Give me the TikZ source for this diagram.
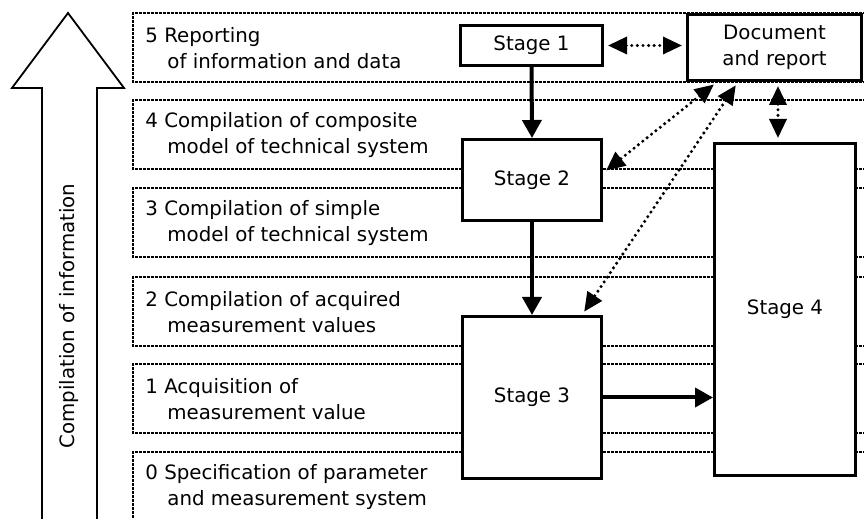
\documentclass[tikz,border=0pt]{standalone}
\usepackage{fontspec}
\setmainfont{DejaVu Sans}
\usetikzlibrary{arrows.meta,calc}

\begin{document}
\begin{tikzpicture}[x=0.5pt,y=-0.5pt,
                font=\fontsize{9.9}{13.25}\selectfont,
                band/.style={line width=1.2pt,dash pattern=on 1.5pt off 0.5pt},
                level/.style={anchor=west,align=left,inner sep=0pt},
                stage/.style={draw,line width=1.5pt,fill=white,align=center,inner sep=0pt},
                flow/.style={line width=2pt,-{Triangle[length=9pt,width=9.5pt]}},
                link/.style={line width=1.7pt,line cap=round,dash pattern=on 0pt off 2.8pt,
                             shorten <=2pt,shorten >=2pt,
                             {Triangle[length=9.5pt,width=8.5pt]}-{Triangle[length=9.5pt,width=8.5pt]}}
                ]
                \useasboundingbox (0,0) rectangle (864,519);
                \clip (0,0) rectangle (864,519);
                % big arrow on the left
                \draw [line width=0.9pt] (42,540) -- (42,88) -- (12,88) -- (68,13) -- (124,88) -- (97,88) -- (97,540);
                \node [rotate=90] (axis) at (69.5,316) {Compilation of information};
                % levels
                \foreach \t/\n/\a/\b in {13/5/Reporting/of information and data,
                                         100/4/Compilation of composite/model of technical system,
                                         188/3/Compilation of simple/model of technical system,
                                         277/2/Compilation of acquired/measurement values,
                                         364/1/Acquisition of/measurement value,
                                         452/0/Specification of parameter/and measurement system}
                {
                \draw [band] (870,\t) -| (133,\t+69) -- (870,\t+69);
                \node [level] (lvl\n) at (145,\t+35) {\n\ \a\\\hspace*{11pt}\b};
                }
                % stages
                \node [stage,minimum width=71pt,minimum height=20pt] (s1) at (531.5,45.5) {Stage 1};
                \node [stage,minimum width=87pt,minimum height=33pt] (doc) at (774.5,47.5) {Document\\and report};
                \node [stage,minimum width=69.5pt,minimum height=40.5pt] (s2) at (532,180) {Stage 2};
                \node [stage,minimum width=69.5pt,minimum height=81pt] (s3) at (532,397.5) {Stage 3};
                \node [stage,minimum width=70.5pt,minimum height=166pt] (s4) at (785,309.5) {Stage 4};
                \draw [flow] (s1.south) -- (s2.north);
                \draw [flow] (s2.south) -- (s3.north);
                \draw [flow] (s3.east) -- (s3.east -| s4.west);
                \coordinate (c4) at ($(s4.north)+(-7,0)$);
                \draw [link] (s1.east) -- (s1.east -| doc.west);
                \draw [link] ($(doc.south west)+(31,0)$) -- ($(s2.east)+(0,-7)$);
                \draw [link] ($(doc.south west)+(52,0)$) -- ($(s3.north)+(50,0)$);
                \draw [link] (doc.south -| c4) -- (c4);
            \end{tikzpicture}
\end{document}
